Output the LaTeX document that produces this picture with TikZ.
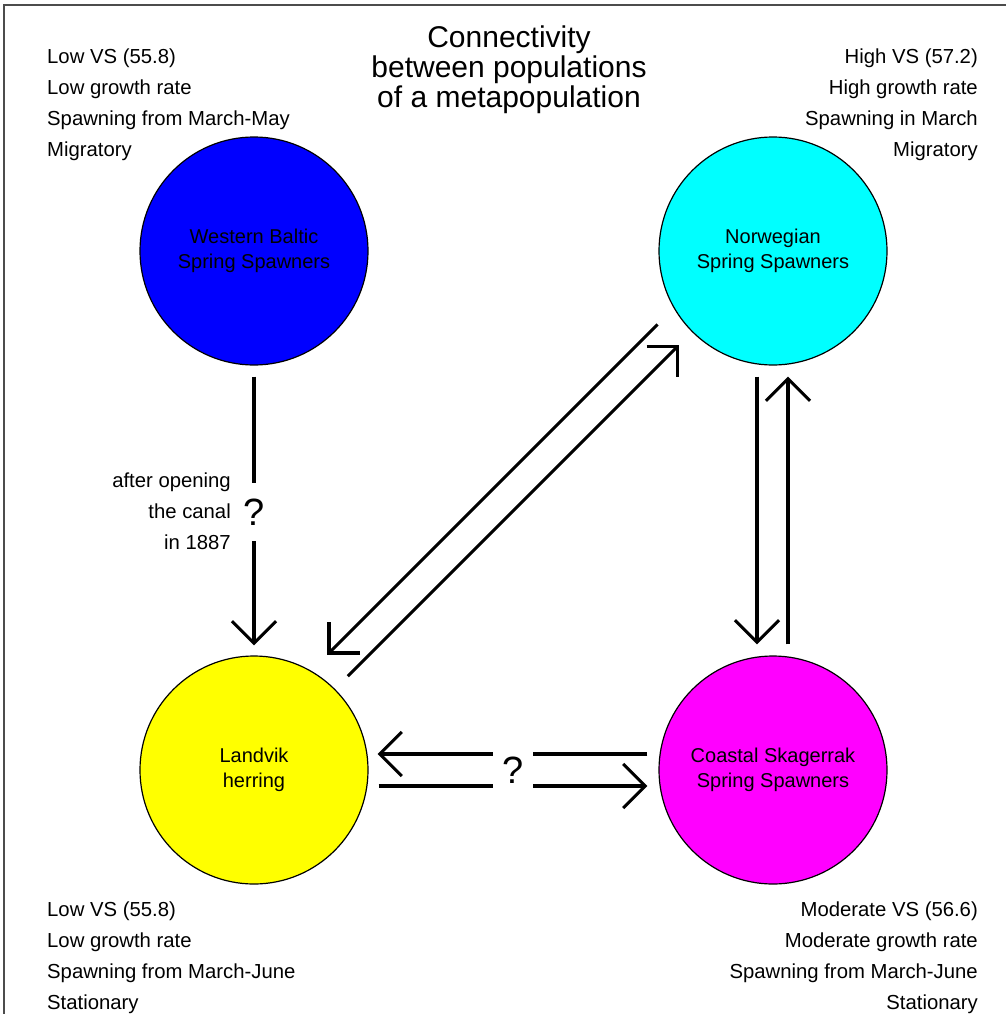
\documentclass[tikz,border=0pt]{standalone}
\usepackage{fontspec}
\setmainfont{Liberation Sans}
\usetikzlibrary{arrows.meta}

\definecolor{balticblue}{RGB}{0,0,255}
\definecolor{norwegiancyan}{RGB}{0,255,255}
\definecolor{landvikyellow}{RGB}{255,255,0}
\definecolor{skagerrakmagenta}{RGB}{255,0,255}

\tikzset{
    population/.style={circle, draw=black, line width=1.2pt, minimum size=228pt, inner sep=0pt,
        align=center, font=\fontsize{20}{25}\selectfont},
    info/.style={inner sep=0pt, font=\fontsize{20.3}{31}\selectfont},
    link/.style={line width=3.1pt},
    flow/.style={link, -{Straight Barb[length=22pt,width=44pt]}},
    query/.style={inner sep=0pt, font=\fontsize{38}{38}\selectfont}
}

\begin{document}
\begin{tikzpicture}[x=1pt,y=-1pt]

    \useasboundingbox (0,0) rectangle (1005,1014);
    \draw[black!70, line width=1.5pt] (4,1020) -- (4,5) -- (1010,5);

    \node[info, anchor=north, align=center, font=\fontsize{30}{30}\selectfont] (title) at (509,26)
        {Connectivity\\between populations\\of a metapopulation};

    \node[population, fill=balticblue] (Baltic) at (254,251) {Western Baltic\\Spring Spawners};
    \node[population, fill=norwegiancyan] (Norwegian) at (773,251) {Norwegian\\Spring Spawners};
    \node[population, fill=landvikyellow] (Landvik) at (254,770) {Landvik\\herring};
    \node[population, fill=skagerrakmagenta] (Skagerrak) at (773,770) {Coastal Skagerrak\\Spring Spawners};

    \node[info, align=left, anchor=north west] (BalticInfo) at (47,48.5)
        {Low VS (55.8)\\Low growth rate\\Spawning from March-May\\Migratory};
    \node[info, align=right, anchor=north east] (NorwegianInfo) at (978,48.5)
        {High VS (57.2)\\High growth rate\\Spawning in March\\Migratory};
    \node[info, align=left, anchor=north west] (LandvikInfo) at (47,901.5)
        {Low VS (55.8)\\Low growth rate\\Spawning from March-June\\Stationary};
    \node[info, align=right, anchor=north east] (SkagerrakInfo) at (978,901.5)
        {Moderate VS (56.6)\\Moderate growth rate\\Spawning from March-June\\Stationary};

    \node[info, align=right, anchor=north east] (canal) at (231,472.5)
        {after opening\\the canal\\in 1887};
    \node[query, minimum width=30pt, minimum height=58pt] (canalq) at (254,512) {?};
    \node[query, minimum width=40pt, minimum height=40pt] (mixq) at (513,770) {?};

    % Baltic to Landvik
    \draw[link, shorten <=11pt] (Baltic) -- (canalq);
    \draw[flow, shorten >=10pt] (canalq) -- (Landvik);

    % Landvik and Norwegian
    \draw[flow, shorten <=19pt, shorten >=19pt] ([shift={(-21,-21)}]Norwegian.south west) -- ([shift={(-21,-21)}]Landvik.north east);
    \draw[flow, shorten <=18pt, shorten >=18pt] (Landvik.north east) -- (Norwegian.south west);

    % Norwegian and Skagerrak
    \draw[flow, shorten <=11pt, shorten >=11pt] ([xshift=-16pt]Norwegian.south) -- ([xshift=-16pt]Skagerrak.north);
    \draw[flow, shorten <=11pt, shorten >=11pt] ([xshift=15pt]Skagerrak.north) -- ([xshift=15pt]Norwegian.south);

    % Landvik and Skagerrak
    \draw[link, shorten <=11pt] ([yshift=16pt]Skagerrak.west) -- ([yshift=16pt]mixq.east);
    \draw[flow, shorten >=9pt] ([yshift=16pt]mixq.west) -- ([yshift=16pt]Landvik.east);
    \draw[link, shorten <=10pt] ([yshift=-16pt]Landvik.east) -- ([yshift=-16pt]mixq.west);
    \draw[flow, shorten >=11pt] ([yshift=-16pt]mixq.east) -- ([yshift=-16pt]Skagerrak.west);

\end{tikzpicture}
\end{document}
